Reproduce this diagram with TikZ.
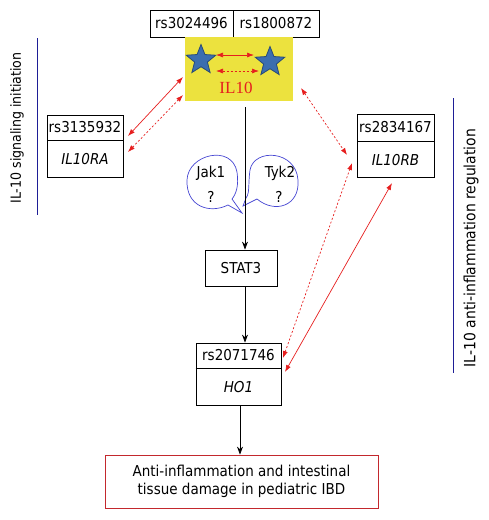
\documentclass[tikz,border=0pt]{standalone}
\usepackage{fontspec}
\setmainfont{DejaVu Sans Condensed}
\newfontfamily\serifil{Liberation Serif}
\usetikzlibrary{shapes.geometric,arrows.meta,calc}
\definecolor{arrred}{RGB}{230,30,30}
\definecolor{lineblue}{RGB}{30,30,150}
\definecolor{bubblue}{RGB}{70,70,210}
\definecolor{ylw}{RGB}{236,226,62}
\definecolor{starblue}{RGB}{60,110,175}
\definecolor{stardark}{RGB}{40,75,120}
\definecolor{boxred}{RGB}{195,40,45}
\begin{document}
\begin{tikzpicture}[x=1pt,y=-1pt,
  txt/.style={font=\fontsize{15}{18}\selectfont},
  box/.style={draw=black,line width=0.8pt,rectangle,inner sep=0pt,txt},
  redsolid/.style={{Latex[length=7pt,width=5pt]}-{Latex[length=7pt,width=5pt]},arrred,line width=0.7pt},
  reddash/.style={redsolid,dash pattern=on 2pt off 2pt},
  bubble/.style={draw=bubblue,line width=0.7pt},
  sidelabel/.style={rotate=90,anchor=center},
  starshape/.style={star,star points=5,star point ratio=2.3,minimum size=31pt,inner sep=0pt,fill=starblue,draw=stardark,line width=0.8pt}]
\useasboundingbox (0,0) rectangle (489,520);
% top SNP boxes
\node[box,minimum width=83pt,minimum height=27pt] (rsA) at (191.5,23.5) {rs3024496};
\node[box,minimum width=86pt,minimum height=27pt] (rsB) at (276,23.5) {rs1800872};
% IL10 yellow block
\node[fill=ylw,minimum width=108pt,minimum height=64pt,inner sep=0pt] (il10) at (238.5,69) {};
\node[starshape] (starL) at (201,60) {};
\node[starshape] (starR) at (270,62) {};
\node[text=arrred,font=\serifil\fontsize{17}{19}\selectfont] (il10t) at (236,88) {IL10};
\coordinate (sa1) at (216,55); \coordinate (sa2) at (254,55);
\coordinate (sd1) at (216,71); \coordinate (sd2) at (259,71);
\draw[redsolid] (sa1) -- (sa2);
\draw[reddash] (sd1) -- (sd2);
% IL10RA
\node[box,minimum width=76pt,minimum height=25pt] (rsC) at (85,127.5) {rs3135932};
\node[box,minimum width=76pt,minimum height=37pt,anchor=north] (ra) at (rsC.south) {\itshape IL10RA};
% IL10RB
\node[box,minimum width=77pt,minimum height=27pt] (rsD) at (395.5,127.5) {rs2834167};
\node[box,minimum width=77pt,minimum height=36pt,anchor=north] (rb) at (rsD.south) {\itshape IL10RB};
% STAT3
\node[box,minimum width=72pt,minimum height=36pt] (stat3) at (241,268) {STAT3};
% HO1
\node[box,minimum width=85pt,minimum height=25pt] (rsE) at (238.5,355.5) {rs2071746};
\node[box,minimum width=85pt,minimum height=37pt,anchor=north] (ho1) at (rsE.south) {\itshape HO1};
\draw[line width=1.6pt] (rsE.south west) -- (rsE.south east);
% outcome
\node[draw=boxred,line width=0.8pt,minimum width=273pt,minimum height=53pt,align=center,txt,inner sep=0pt] (out) at (241.5,481.5) {Anti-inflammation and intestinal\\tissue damage in pediatric IBD};
% bubbles
\draw[bubble] (242,213) -- (228,205) .. controls (210,214) and (186,207) .. (187,180) .. controls (188,154) and (232,144) .. (237,172) .. controls (239,186) and (236,194) .. (232,199) -- cycle;
\draw[bubble] (243,206) -- (257,199) .. controls (275,214) and (300,206) .. (298,180) .. controls (296,150) and (254,148) .. (250,170) .. controls (248,184) and (250,193) .. (246,198) -- cycle;
\node[txt] (jak) at (211,173) {Jak1};
\node[txt] (jakq) at (211,197) {?};
\node[txt] (tyk) at (280,173) {Tyk2};
\node[txt] (tykq) at (279,197) {?};
% black flow
\coordinate (top) at (245,107);
\draw[line width=0.8pt,-{Stealth[length=8pt,width=6pt]}] (top) -- (top |- stat3.north);
\coordinate (s3b) at (245,286);
\draw[line width=0.8pt,-{Stealth[length=8pt,width=6pt]}] (s3b) -- (s3b |- rsE.north);
\coordinate (hob) at (240,405);
\draw[line width=0.8pt,-{Stealth[length=8pt,width=6pt]}] (hob) -- (hob |- out.north);
% red connectors
\coordinate (ra1) at (128,136); \coordinate (il1) at (183,77);
\coordinate (ra2) at (128,152); \coordinate (il2) at (183,95);
\draw[redsolid] (ra1) -- (il1);
\draw[reddash] (ra2) -- (il2);
\coordinate (il3) at (301,88); \coordinate (rb1) at (347,155);
\draw[reddash] (il3) -- (rb1);
\coordinate (ho1a) at (283,358); \coordinate (rb2) at (352,163);
\draw[reddash] (ho1a) -- (rb2);
\coordinate (ho1b) at (285,372); \coordinate (rb3) at (392,183);
\draw[redsolid] (ho1b) -- (rb3);
% side labels
\coordinate (lb1) at (37,38); \coordinate (lb2) at (37,215);
\draw[lineblue,line width=0.8pt] (lb1) -- (lb2);
\node[sidelabel,font=\fontsize{14}{16}\selectfont] (lt) at (17,128) {IL-10 signaling initiation};
\coordinate (rl1) at (453,98); \coordinate (rl2) at (453,373);
\draw[lineblue,line width=0.8pt] (rl1) -- (rl2);
\node[sidelabel,font=\fontsize{15.5}{18}\selectfont] (rt) at (471,248) {IL-10 anti-inflammation regulation};
\end{tikzpicture}
\end{document}
